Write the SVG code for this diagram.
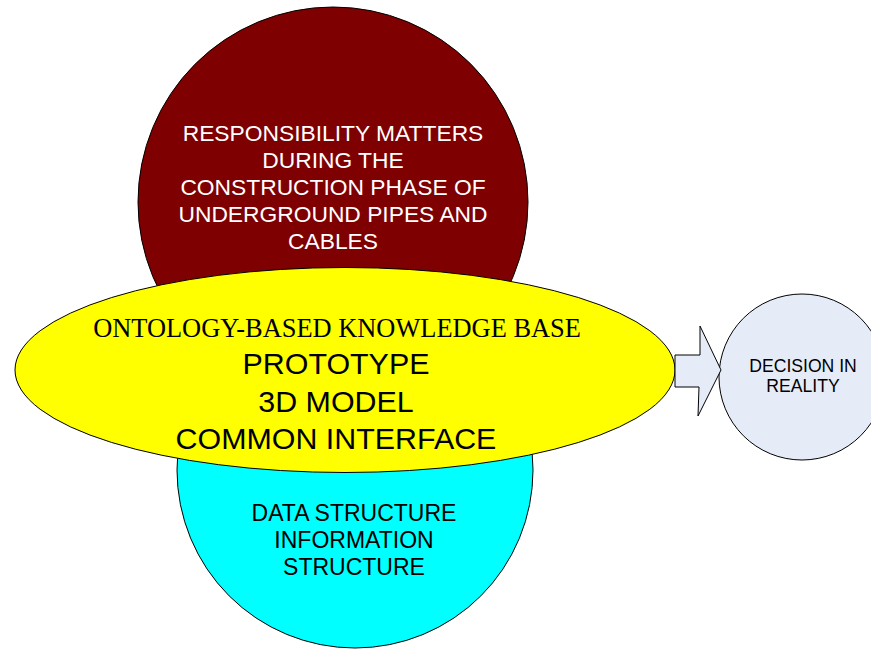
<svg xmlns="http://www.w3.org/2000/svg" width="871" height="650" viewBox="0 0 871 650">
  <style>
    .shape { stroke: #000000; stroke-width: 1; }
    .sans { font-family: "Liberation Sans", Arial, sans-serif; text-anchor: middle; }
    .serif { font-family: "Liberation Serif", "Times New Roman", serif; text-anchor: middle; }
  </style>
  <rect width="871" height="650" fill="#ffffff"/>

  <!-- responsibility circle (behind the central ellipse) -->
  <g id="responsibility">
    <circle class="shape" cx="333" cy="202" r="195" fill="#7f0000"/>
    <g class="sans" font-size="22.8" fill="#ffffff">
      <text x="333" y="141">RESPONSIBILITY MATTERS</text>
      <text x="333" y="168">DURING THE</text>
      <text x="333" y="195">CONSTRUCTION PHASE OF</text>
      <text x="333" y="222">UNDERGROUND PIPES AND</text>
      <text x="333" y="249">CABLES</text>
    </g>
  </g>

  <!-- data structure circle (behind the central ellipse) -->
  <g id="data-structure">
    <circle class="shape" cx="355" cy="470" r="178" fill="#00ffff"/>
    <g class="sans" font-size="23" fill="#000000">
      <text x="354" y="521">DATA STRUCTURE</text>
      <text x="354" y="548">INFORMATION</text>
      <text x="354" y="575">STRUCTURE</text>
    </g>
  </g>

  <!-- central ellipse -->
  <g id="knowledge-base">
    <ellipse class="shape" cx="345" cy="370" rx="330" ry="102.5" fill="#ffff00"/>
    <text class="serif" x="337" y="337" font-size="26.4" fill="#000000">ONTOLOGY-BASED KNOWLEDGE BASE</text>
    <g class="sans" font-size="30.4" fill="#000000">
      <text x="336" y="374">PROTOTYPE</text>
      <text x="336" y="411.5">3D MODEL</text>
      <text x="336" y="449">COMMON INTERFACE</text>
    </g>
  </g>

  <!-- decision circle -->
  <g id="decision">
    <circle class="shape" cx="802" cy="377" r="83" fill="#e6ecf7"/>
    <g class="sans" font-size="17.6" fill="#000000">
      <text x="803" y="372">DECISION IN</text>
      <text x="803" y="392">REALITY</text>
    </g>
  </g>

  <!-- block arrow from the ellipse to the decision circle -->
  <g id="connectors">
    <path class="shape" fill="#e6ecf7" stroke-linejoin="miter"
          d="M675,355 L700,355 L700,326 L721,370 L698,416 L699,387 L675,387 Z"/>
  </g>
</svg>
